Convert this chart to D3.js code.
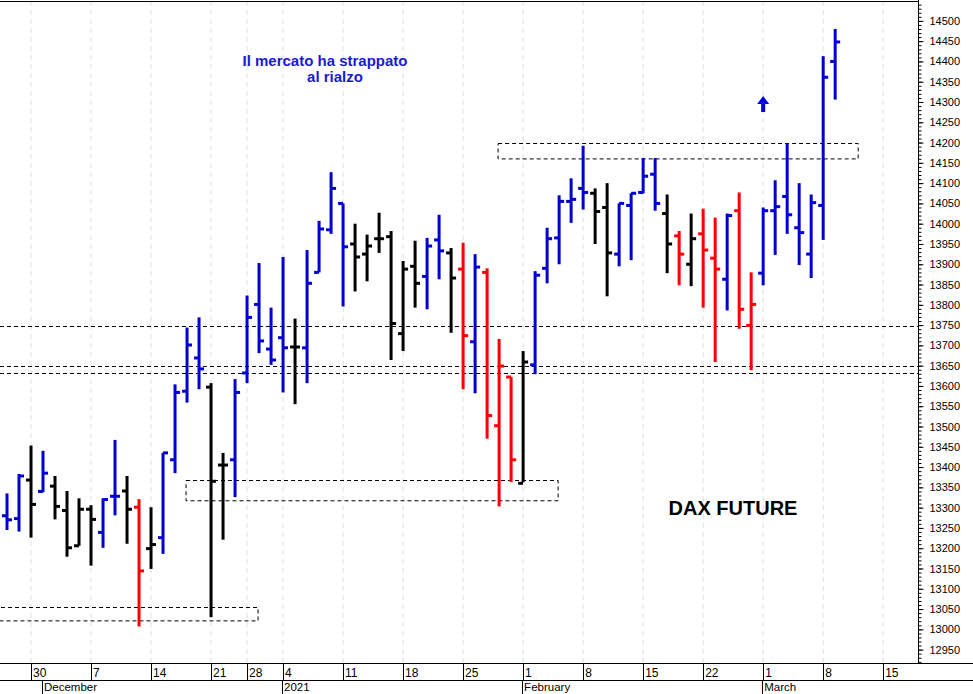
<!DOCTYPE html>
<html>
<head>
<meta charset="utf-8">
<script src="https://cdn.jsdelivr.net/npm/d3@7"></script>
<style>
  body { margin: 0; background: #fff; }
  text { font-family: Arial, "Liberation Sans", sans-serif; }
</style>
</head>
<body>
<script>
// trading days shown (Nov 26 2020 .. Mar 9 2021)
const dates = ["2020-11-26","2020-11-27","2020-11-30","2020-12-01","2020-12-02","2020-12-03","2020-12-04",
  "2020-12-07","2020-12-08","2020-12-09","2020-12-10","2020-12-11","2020-12-14","2020-12-15","2020-12-16",
  "2020-12-17","2020-12-18","2020-12-21","2020-12-22","2020-12-23","2020-12-28","2020-12-29","2020-12-30",
  "2021-01-04","2021-01-05","2021-01-06","2021-01-07","2021-01-08","2021-01-11","2021-01-12","2021-01-13",
  "2021-01-14","2021-01-15","2021-01-18","2021-01-19","2021-01-20","2021-01-21","2021-01-22","2021-01-25",
  "2021-01-26","2021-01-27","2021-01-28","2021-01-29","2021-02-01","2021-02-02","2021-02-03","2021-02-04",
  "2021-02-05","2021-02-08","2021-02-09","2021-02-10","2021-02-11","2021-02-12","2021-02-15","2021-02-16",
  "2021-02-17","2021-02-18","2021-02-19","2021-02-22","2021-02-23","2021-02-24","2021-02-25","2021-02-26",
  "2021-03-01","2021-03-02","2021-03-03","2021-03-04","2021-03-05","2021-03-08","2021-03-09"];
const opens  = [13280,13273,13368,13340,13353,13293,13206,13296,13239,13328,13341,13301,13199,13226,13418,13587,13669,13597,13405,13418,13632,13801,13691,13719,13696,13694,13880,13985,14050,13950,13925,13963,13968,13729,13895,13870,13960,13928,13888,13709,13880,13502,13622,13360,13652,13890,13965,14055,14087,14075,14040,13925,14045,14077,14122,14025,13970,13900,13975,13915,13863,14032,13749,13878,14032,14067,13990,13925,14045,14400];
const highs  = [13335,13383,13453,13440,13378,13341,13323,13306,13323,13467,13378,13321,13301,13435,13604,13744,13769,13607,13435,13617,13823,13903,13793,13918,13766,13935,14007,14127,14050,14000,13973,14027,13982,13908,13958,13965,14022,13940,13953,13925,13890,13716,13622,13686,13883,13990,14070,14112,14192,14087,14100,14050,14075,14162,14162,14072,13982,14025,14037,14015,14025,14077,13880,14040,14107,14199,14100,14072,14413,14480];
const lows   = [13245,13241,13226,13338,13271,13179,13206,13157,13201,13281,13211,13007,13149,13186,13385,13559,13592,13030,13221,13326,13607,13681,13652,13584,13555,13607,13880,13975,13796,13833,13858,13928,13664,13686,13793,13789,13863,13731,13592,13582,13470,13303,13363,13363,13629,13853,13900,14002,14035,13950,13821,13895,13910,14075,14032,13878,13848,13846,13793,13659,13786,13741,13639,13848,13923,13975,13898,13866,13960,14306];
const closes = [13270,13378,13308,13385,13303,13201,13296,13271,13320,13328,13296,13144,13209,13435,13584,13701,13642,13365,13405,13584,13769,13711,13664,13694,13696,13853,13987,14087,13943,13918,13945,13963,13754,13888,13853,13945,13933,13866,13724,13893,13527,13649,13418,13659,13873,13963,14055,14060,14077,14030,13928,14050,14075,14117,14050,13950,13925,13963,13935,13888,14020,13789,13801,14032,14042,14022,13978,14052,14361,14448];
const colorCodes = "bbkbkkkkbbkrkbbbbkkbbbbbkbbbbkkkkkkbbkrbrrrkbbbbbkkbbbbkrkrrbrrbbbbbbb";

// holidays skipped on the trading-day axis
const holidays = ["2020-12-24","2020-12-25","2020-12-31","2021-01-01"];
const dayTicks = ["2020-11-30","2020-12-07","2020-12-14","2020-12-21","2020-12-28","2021-01-04","2021-01-11",
  "2021-01-18","2021-01-25","2021-02-01","2021-02-08","2021-02-15","2021-02-22","2021-03-01","2021-03-08","2021-03-15"];
const monthTicks = [["2020-12-01","December"],["2021-01-04","2021"],["2021-02-01","February"],["2021-03-01","March"]];

const hLines = [13748, 13648, 13633];
const boxes = [ // [startDate, endDate, low, high]
  ["2020-11-25","2020-12-29",13022,13055],
  ["2020-12-17","2021-02-04",13318,13368],
  ["2021-01-28","2021-03-11",14162,14200]];

const W = 973, H = 694;
const plotRight = 918, plotBottom = 663, plotTop = 1;

// build full trading calendar (to extend beyond last bar)
const fmt = d3.utcFormat("%Y-%m-%d");
const calendar = [];
for (let d = new Date(Date.UTC(2020,10,24)); d <= new Date(Date.UTC(2021,2,22)); d = d3.utcDay.offset(d, 1)) {
  const s = fmt(d), wd = d.getUTCDay();
  if (wd !== 0 && wd !== 6 && !holidays.includes(s)) calendar.push(s);
}
const idx = s => calendar.indexOf(s);
const base = idx(dates[0]);

const x = d3.scaleLinear().domain([base - 0.583, base + 75.9]).range([0, plotRight]);
const y = d3.scaleLinear().domain([12917, 14549]).range([plotBottom, plotTop]);
const xd = s => x(idx(s));

const svg = d3.select("body").append("svg").attr("width", W).attr("height", H);

// vertical grid
svg.append("g").selectAll("line").data(dayTicks).join("line")
  .attr("x1", d => xd(d)).attr("x2", d => xd(d))
  .attr("y1", plotTop).attr("y2", plotBottom)
  .attr("stroke", "#dcdce8").attr("stroke-dasharray", "5,4").attr("stroke-width", 1);

// horizontal dashed levels
svg.append("g").selectAll("line").data(hLines).join("line")
  .attr("x1", 0).attr("x2", plotRight)
  .attr("y1", d => Math.round(y(d)) + 0.5).attr("y2", d => Math.round(y(d)) + 0.5)
  .attr("stroke", "#000").attr("stroke-dasharray", "4,3");

// dashed boxes
svg.append("g").selectAll("rect").data(boxes).join("rect")
  .attr("x", d => xd(d[0]) - 1).attr("width", d => xd(d[1]) - xd(d[0]))
  .attr("y", d => Math.round(y(d[3])) + 0.5).attr("height", d => y(d[2]) - y(d[3]))
  .attr("fill", "none").attr("stroke", "#000").attr("stroke-dasharray", "4,3");

// OHLC bars
const colorOf = { b: "#0000d0", k: "#000000", r: "#ff0000" };
const bars = svg.append("g").selectAll("g").data(dates).join("g")
  .attr("stroke", (d, i) => colorOf[colorCodes[i]]).attr("stroke-width", 3);
bars.append("line")
  .attr("x1", d => xd(d)).attr("x2", d => xd(d))
  .attr("y1", (d, i) => y(highs[i])).attr("y2", (d, i) => y(lows[i]));
bars.append("line")
  .attr("x1", d => xd(d) - 5).attr("x2", d => xd(d))
  .attr("y1", (d, i) => y(opens[i])).attr("y2", (d, i) => y(opens[i]));
bars.append("line")
  .attr("x1", d => xd(d)).attr("x2", d => xd(d) + 5)
  .attr("y1", (d, i) => y(closes[i])).attr("y2", (d, i) => y(closes[i]));

// frame
svg.append("line").attr("x1", 0).attr("x2", plotRight).attr("y1", 1.5).attr("y2", 1.5).attr("stroke", "#000");
svg.append("line").attr("x1", 0).attr("x2", W).attr("y1", plotBottom + 0.5).attr("y2", plotBottom + 0.5).attr("stroke", "#000");
svg.append("line").attr("x1", 0).attr("x2", W).attr("y1", 680.5).attr("y2", 680.5).attr("stroke", "#000");

// right axis
const yAxis = svg.append("g").attr("transform", `translate(${plotRight + 0.5},0)`)
  .call(d3.axisRight(y).tickValues(d3.range(12950, 14501, 50)).tickSize(5).tickPadding(6).tickFormat(d3.format("d")));
yAxis.select(".domain").attr("d", `M0,0V${plotBottom}`);
yAxis.selectAll("text").attr("font-size", 11).attr("fill", "#000");
svg.append("g").attr("transform", `translate(${plotRight + 0.5},0)`)
  .call(d3.axisRight(y).tickValues(d3.range(12920, 14541, 10)).tickSize(3).tickFormat(""))
  .select(".domain").remove();

// bottom day labels
const xb = svg.append("g");
xb.selectAll("line").data(dayTicks).join("line")
  .attr("x1", d => Math.round(xd(d)) + 0.5).attr("x2", d => Math.round(xd(d)) + 0.5)
  .attr("y1", plotBottom).attr("y2", 680).attr("stroke", "#000");
xb.selectAll("text").data(dayTicks).join("text")
  .attr("x", d => xd(d) + 2).attr("y", 677).attr("font-size", 12)
  .text(d => +d.slice(8));
const mb = svg.append("g");
mb.selectAll("line").data(monthTicks).join("line")
  .attr("x1", d => Math.round(xd(d[0])) - 0.5).attr("x2", d => Math.round(xd(d[0])) - 0.5)
  .attr("y1", 680).attr("y2", H).attr("stroke", "#000");
mb.selectAll("text").data(monthTicks).join("text")
  .attr("x", d => xd(d[0]) + 1).attr("y", 691).attr("font-size", 11.5)
  .text(d => d[1]);

// annotations
svg.append("text").attr("x", 325).attr("y", 66).attr("text-anchor", "middle")
  .attr("font-size", 15).attr("font-weight", "bold").attr("fill", "#1a1ad0").text("Il mercato ha strappato");
svg.append("text").attr("x", 335).attr("y", 82).attr("text-anchor", "middle")
  .attr("font-size", 15).attr("font-weight", "bold").attr("fill", "#1a1ad0").text("al rialzo");
svg.append("text").attr("x", 733).attr("y", 515).attr("text-anchor", "middle")
  .attr("font-size", 20).attr("font-weight", "bold").attr("fill", "#000").text("DAX FUTURE");

// arrow
const ax = xd("2021-03-01");
svg.append("path")
  .attr("d", `M${ax},96 L${ax + 6},104 L${ax + 2},104 L${ax + 2},112 L${ax - 2},112 L${ax - 2},104 L${ax - 6},104 Z`)
  .attr("fill", "#0000e0");
</script>
</body>
</html>
